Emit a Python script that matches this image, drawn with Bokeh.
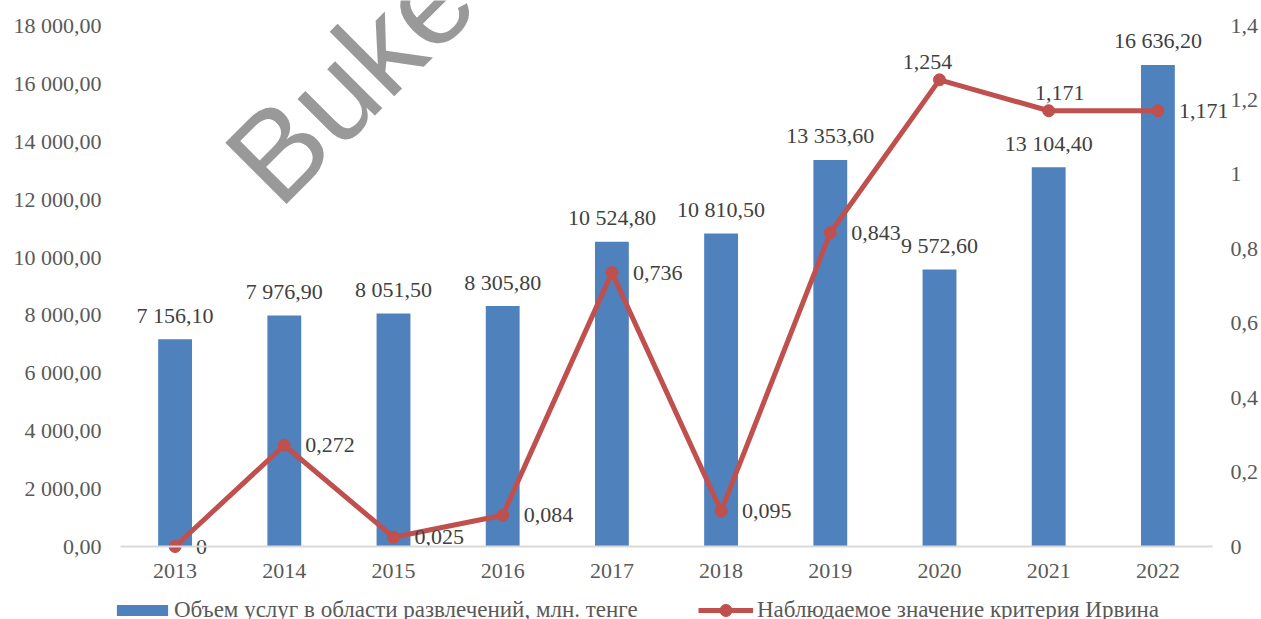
from bokeh.plotting import figure
from bokeh.models import (Range1d, LinearAxis, FixedTicker, Legend,
                          LegendItem, Label, ColumnDataSource)
from bokeh.embed import file_html
from bokeh.resources import INLINE
from bokeh.core.properties import value

# ---------------- data ----------------
years = ["2013", "2014", "2015", "2016", "2017", "2018", "2019", "2020", "2021", "2022"]
volume = [7156.10, 7976.90, 8051.50, 8305.80, 10524.80, 10810.50, 13353.60, 9572.60, 13104.40, 16636.20]
volume_labels = ["7 156,10", "7 976,90", "8 051,50", "8 305,80", "10 524,80", "10 810,50",
                 "13 353,60", "9 572,60", "13 104,40", "16 636,20"]
irwin = [0, 0.272, 0.025, 0.084, 0.736, 0.095, 0.843, 1.254, 1.171, 1.171]
irwin_labels = ["0", "0,272", "0,025", "0,084", "0,736", "0,095", "0,843", "1,254", "1,171", "1,171"]

left_ticks = [0, 2000, 4000, 6000, 8000, 10000, 12000, 14000, 16000, 18000]
left_tick_labels = ["0,00", "2 000,00", "4 000,00", "6 000,00", "8 000,00", "10 000,00",
                    "12 000,00", "14 000,00", "16 000,00", "18 000,00"]
right_ticks = [0, 0.2, 0.4, 0.6, 0.8, 1.0, 1.2, 1.4]
right_tick_labels = ["0", "0,2", "0,4", "0,6", "0,8", "1", "1,2", "1,4"]

series_bar_name = "Объем услуг в области развлечений, млн. тенге"
series_line_name = "Наблюдаемое значение критерия Ирвина"
watermark_text = "Buke"

# ---------------- layout / style ----------------
W, H = 1261, 619
FRAME_L, FRAME_R, FRAME_T, FRAME_B = 120, 1212, 25, 546   # plot-area edges in px
BAR = "#4F81BD"
LINE = "#C0504D"
AXIS_TXT = "#595959"
DATA_TXT = "#404040"
FONT = "Liberation Serif"
FS = "22px"
LEG_FS = "23px"

# label placement (style): labels sit right of the points, except these above
label_above = {"2020": -12, "2021": 11}

n = len(years)
xpos = [i + 0.5 for i in range(n)]           # category centres on the x scale
ux = (FRAME_R - FRAME_L) / n
ymax, y2max = left_ticks[-1], right_ticks[-1]
uy = (FRAME_B - FRAME_T) / ymax
uy2 = (FRAME_B - FRAME_T) / y2max

p = figure(width=W, height=H,
           x_range=Range1d(-FRAME_L / ux, n + (W - FRAME_R) / ux),
           y_range=Range1d(-(H - FRAME_B) / uy, ymax + FRAME_T / uy),
           output_backend="svg", toolbar_location=None,
           min_border=0, min_border_left=0, min_border_right=0,
           min_border_top=0, min_border_bottom=0,
           x_axis_type=None, y_axis_type=None)
p.extra_y_ranges = {"irwin": Range1d(-(H - FRAME_B) / uy2, y2max + FRAME_T / uy2)}
p.title.visible = False
p.outline_line_color = None
p.xgrid.visible = False
p.ygrid.visible = False
p.background_fill_color = "white"
p.border_fill_color = "white"


def style_axis(ax):
    ax.major_tick_line_color = None
    ax.minor_tick_line_color = None
    ax.major_tick_out = 0
    ax.major_tick_in = 0
    ax.major_label_text_font = FONT
    ax.major_label_text_font_size = FS
    ax.major_label_text_color = AXIS_TXT


# left axis
ya = LinearAxis(ticker=FixedTicker(ticks=left_ticks), fixed_location=0,
                bounds=(0, ymax))
ya.major_label_overrides = {t: l for t, l in zip(left_ticks, left_tick_labels)}
style_axis(ya)
ya.axis_line_color = None
ya.major_label_standoff = 19
p.add_layout(ya, "left")

# right axis
ra = LinearAxis(y_range_name="irwin", ticker=FixedTicker(ticks=right_ticks),
                fixed_location=n, bounds=(0, y2max))
ra.major_label_overrides = {t: l for t, l in zip(right_ticks, right_tick_labels)}
style_axis(ra)
ra.axis_line_color = None
ra.major_label_standoff = 18
p.add_layout(ra, "right")

# x axis
xa = LinearAxis(ticker=FixedTicker(ticks=xpos), fixed_location=0, bounds=(0, n))
xa.major_label_overrides = {x: y for x, y in zip(xpos, years)}
style_axis(xa)
xa.axis_line_color = "#D9D9D9"
xa.axis_line_width = 2
xa.major_label_standoff = 17
p.add_layout(xa, "below")

# bars
bars = p.vbar(x=xpos, top=volume, width=0.31, fill_color=BAR, line_color=None)
p.text(x=xpos, y=volume, text=volume_labels, text_align="center",
       text_baseline="alphabetic", y_offset=-24,
       text_font=value(FONT), text_font_size=FS, text_color=DATA_TXT)

# line
ln = p.line(x=xpos, y=irwin, y_range_name="irwin", line_color=LINE, line_width=5)
pts = p.scatter(x=xpos, y=irwin, y_range_name="irwin", size=12,
                fill_color=LINE, line_color=LINE)

dx = [label_above[y] if y in label_above else 21 for y in years]
dy = [-18 if y in label_above else 0 for y in years]
al = ["center" if y in label_above else "left" for y in years]
lsrc = ColumnDataSource(dict(x=xpos, y=irwin, t=irwin_labels, dx=dx, dy=dy, al=al))
p.text(x="x", y="y", text="t", x_offset="dx", y_offset="dy", text_align="al",
       text_baseline="middle", source=lsrc, y_range_name="irwin",
       text_font=value(FONT), text_font_size=FS, text_color=DATA_TXT)

# legends (location in px from the frame's bottom-left = canvas bottom-left)
common = dict(orientation="horizontal", padding=0, margin=0, border_line_color=None,
              background_fill_alpha=0, label_height=26,
              label_text_font=FONT, label_text_font_size=LEG_FS,
              label_text_color=AXIS_TXT)
leg1 = Legend(items=[LegendItem(label=series_bar_name, renderers=[bars])],
              location=(110, -4), glyph_width=64, glyph_height=14, label_standoff=0,
              **common)
leg2 = Legend(items=[LegendItem(label=series_line_name, renderers=[ln, pts])],
              location=(698, -6), glyph_width=55, glyph_height=30, label_standoff=4,
              **common)
p.add_layout(leg1, "center")
p.add_layout(leg2, "center")

# watermark
p.add_layout(Label(x=1.172, y=12645, text=watermark_text, angle=45, angle_units="deg",
                   text_font="Liberation Sans", text_font_size="126px",
                   text_color="#999999", text_align="left", text_baseline="alphabetic"))

open("out.html", "w").write(file_html(p, INLINE))
